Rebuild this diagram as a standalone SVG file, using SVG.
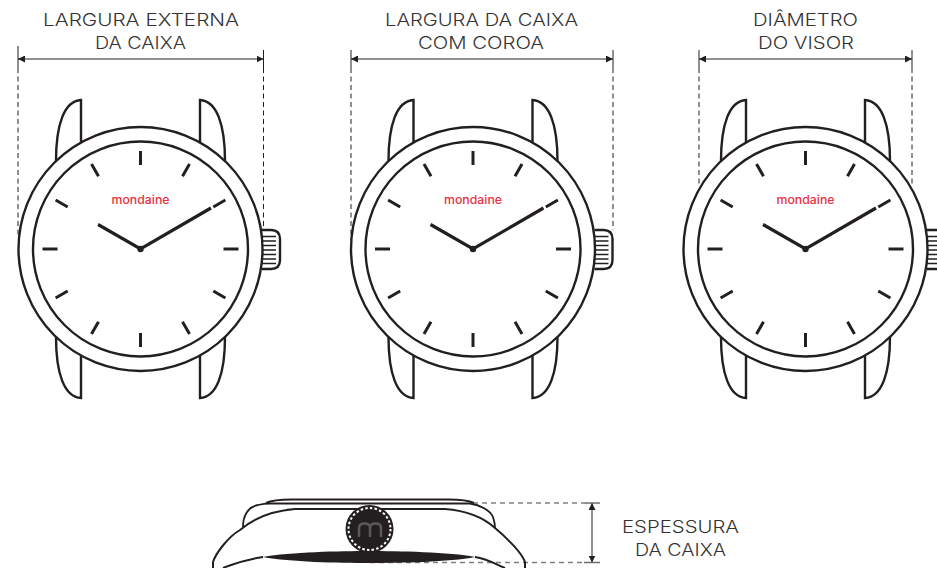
<svg xmlns="http://www.w3.org/2000/svg" width="937" height="568" viewBox="0 0 937 568">
<style>
.l{font-family:"Inter","Liberation Sans",sans-serif;font-weight:300;font-size:17.5px;fill:#333;text-anchor:middle}
.o{fill:none;stroke:#231f20;stroke-width:2.4}
.s{fill:none;stroke:#231f20;stroke-width:2}
.t{fill:none;stroke:#231f20;stroke-width:3}
.h{fill:none;stroke:#231f20;stroke-width:3.200}
.r{fill:none;stroke:#231f20;stroke-width:1.5}
.d{fill:none;stroke:#231f20;stroke-width:1;stroke-dasharray:5 3.5}
.k{fill:none;stroke:#231f20;stroke-width:1}
.g{fill:none;stroke:#808080;stroke-width:1.3;stroke-dasharray:5 4}
.a{fill:none;stroke:#6d6e71;stroke-width:1.500;marker-start:url(#ah);marker-end:url(#ah)}
.logo{font-family:"Inter","Liberation Sans",sans-serif;font-weight:500;font-size:12px;fill:#e8313f;text-anchor:middle}
</style>
<defs>
<marker id="ah" viewBox="0 0 7 7" refX="7" refY="3.500" markerWidth="7" markerHeight="7" markerUnits="userSpaceOnUse" orient="auto-start-reverse"><path d="M0 0L7 3.500L0 7Z" fill="#231f20"/></marker>
<g id="w">
<path class="o" d="M56 161C56 125 64 101 81 100V143"/>
<path class="o" d="M225 161C225 125 217 101 200 100V143"/>
<path class="o" d="M56 337C56 373 64 397 81 398V355"/>
<path class="o" d="M225 337C225 373 217 397 200 398V355"/>
<path class="o" d="M262 230H271Q280 230 280 239V260Q280 269 271 269H262"/>
<path class="r" d="M262 236.500H276M262 241H276M262 245.500H276M262 250H276M262 254.500H276M262 259H276M262 263.500H276"/>
<circle class="o" cx="140.500" cy="249" r="122" style="fill:#fff"/>
<circle class="o" cx="140.500" cy="249" r="107.500"/>
<path class="t" d="M140.500 151V165M140.500 333V347M42.500 249H57.500M223.500 249H238.500M189.500 164.100L182.500 176.200M91.500 333.900L98.500 321.800M225.400 200L213.300 207M55.600 298L67.700 291M225.400 298L213.300 291M55.600 200L67.700 207M91.500 164.100L98.500 176.200M189.500 333.900L182.500 321.800"/>
<path class="h" d="M98 224.500L140.500 249L211 208"/>
<circle cx="140.500" cy="249" r="3.200" fill="#231f20"/>
<text class="logo" x="140.500" y="203.500" textLength="58" lengthAdjust="spacingAndGlyphs">mondaine</text>
</g>
</defs>
<rect width="937" height="568" fill="#fff"/>
<g id="connectors">
<path class="a" d="M18 59H263.500"/>
<path class="a" d="M351 59H613"/>
<path class="a" d="M699 59H912"/>
<path class="k" d="M18 46V68M263.500 50V68M351 50V68M613 50V68M699 50V68M912 50V68"/>
<path class="d" d="M18 68V236M263.500 68V230M351 68V240M613 68V230M699 68V185M912 68V185"/>
<path class="g" d="M473 503H584M370 562.500H584"/>
<path d="M584 503H600M584 562.500H600" fill="none" stroke="#6d6e71" stroke-width="1.300"/>
<path class="a" d="M592 503V562.500"/>
</g>
<g id="watch-1"><use href="#w"/></g>
<g id="watch-2"><use href="#w" x="332.500"/></g>
<g id="watch-3"><use href="#w" x="665"/></g>
<g id="watch-side">
<path class="s" d="M266 503C272 500 280 499.500 292 499.500H448C460 499.500 468 500 474 503"/>
<path class="s" d="M243 527C243 517 247 507 258 505C262 504 264 503.500 270 503.500H470C480 505 490 510 493 517C494 520 495 524 495 528" style="stroke-width:1.800"/>
<path class="s" d="M213 568V562C216 553 228 537 240 530C254 518 270 511 295 509H445C470 511 484 518 495 528C507 538 522 553 525 562V568"/>
<path d="M263 557C290 552 340 551 369 551S450 552 475 557C450 562 400 563 369 563S290 562 263 557Z" fill="#231f20"/>
<path class="s" d="M223 568C235 563 250 559 263 557M475 557C488 559 495 564 505 568"/>
<circle cx="369.500" cy="529" r="24" fill="#231f20"/>
<circle cx="369.500" cy="529" r="21" fill="none" stroke="#fff" stroke-width="2" stroke-dasharray="2.500 2.200"/>
<path d="M359 537V528Q359 523.500 364.500 523.500Q370 523.500 370 528V537M370 528Q370 523.500 375.500 523.500Q381 523.500 381 528V537" fill="none" stroke="#58595b" stroke-width="2.500"/>
</g>
<g id="labels">
<text class="l" x="141" y="26" textLength="196" lengthAdjust="spacingAndGlyphs">LARGURA EXTERNA</text>
<text class="l" x="140.500" y="49" textLength="91" lengthAdjust="spacingAndGlyphs">DA CAIXA</text>
<text class="l" x="481.500" y="26" textLength="193" lengthAdjust="spacingAndGlyphs">LARGURA DA CAIXA</text>
<text class="l" x="481" y="49" textLength="126" lengthAdjust="spacingAndGlyphs">COM COROA</text>
<text class="l" x="805.500" y="26" textLength="105" lengthAdjust="spacingAndGlyphs">DIÂMETRO</text>
<text class="l" x="806" y="49" textLength="96" lengthAdjust="spacingAndGlyphs">DO VISOR</text>
<text class="l" x="680.500" y="533" textLength="117" lengthAdjust="spacingAndGlyphs">ESPESSURA</text>
<text class="l" x="680.500" y="556" textLength="91" lengthAdjust="spacingAndGlyphs">DA CAIXA</text>
</g>
</svg>
